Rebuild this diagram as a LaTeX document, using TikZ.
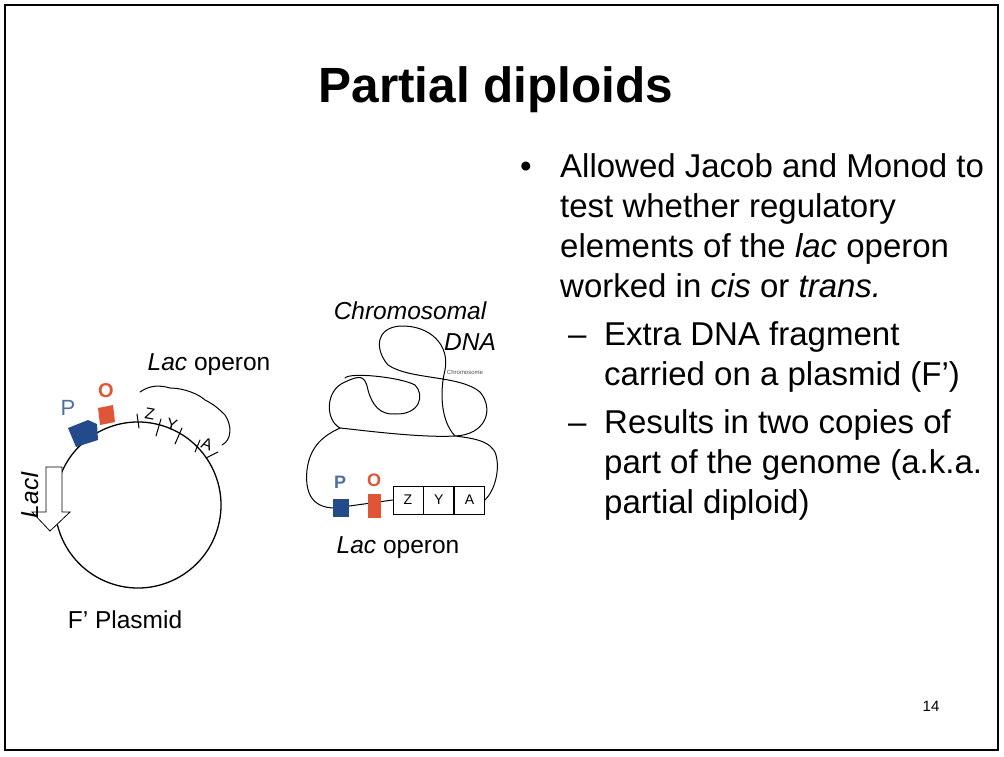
\documentclass[tikz,border=0pt]{standalone}
\usepackage{fontspec}
\setmainfont{Liberation Sans}
\usetikzlibrary{positioning}
\definecolor{pblue}{RGB}{35,75,140}
\definecolor{ored}{RGB}{225,85,55}
\begin{document}
\begin{tikzpicture}[x=1pt,y=-1pt,
  body/.style={anchor=base west,font=\fontsize{33}{36}\selectfont,inner sep=0},
  lab/.style={font=\fontsize{24.5}{26}\selectfont},
  hand/.style={line width=1.3pt,line cap=round,line join=round},
  gene/.style={draw,line width=0.8pt,minimum width=30pt,minimum height=28pt,inner sep=0,font=\fontsize{14}{14}\selectfont}]
\useasboundingbox (0,0) rectangle (1004,757);
\draw[line width=1.5pt] (5,5) rectangle (998,750);
\node[font=\bfseries\fontsize{49.5}{52}\selectfont] (title) at (496,90) {Partial diploids};
% bullets
\node[body] (b0) at (520,177) {•};
\node[body] (b1) at (560,177) {Allowed Jacob and Monod to};
\node[body] (b2) at (560,217) {test whether regulatory};
\node[body] (b3) at (560,257) {elements of the \textit{lac} operon};
\node[body] (b4) at (560,297) {worked in \textit{cis} or \textit{trans.}};
\node[body] (s0) at (568,345) {–};
\node[body] (s1) at (604,345) {Extra DNA fragment};
\node[body] (s2) at (604,385) {carried on a plasmid (F’)};
\node[body] (s3) at (568,433) {–};
\node[body] (s4) at (604,433) {Results in two copies of};
\node[body] (s5) at (604,473) {part of the genome (a.k.a.};
\node[body] (s6) at (604,513) {partial diploid)};
\node[font=\fontsize{15}{18}\selectfont] (pg) at (931,706) {14};
% plasmid
\draw[hand] (138,505) ++(110:83) arc (110:-250:83);
\fill[pblue] (68,428) -- (88,420) -- (97,424) -- (98,440) -- (76,447) -- cycle;
\node[text=pblue!80,font=\fontsize{22}{22}\selectfont] (pP) at (68,408) {P};
\fill[ored] (98,408) -- (113,405) -- (115,422) -- (100,425) -- cycle;
\node[text=ored,font=\bfseries\fontsize{20}{20}\selectfont] (pO) at (106,391) {O};
\draw[hand,line width=1pt] (137,414) -- (139,428) (161,419) -- (156,436) (182,428) -- (175,444) (200,440) -- (195,452) (206,458) -- (218,452);
\node[font=\fontsize{16}{16}\selectfont,rotate=-10] (pZ) at (150,414) {Z};
\node[font=\fontsize{16}{16}\selectfont,rotate=-15] (pY) at (172,425) {Y};
\node[font=\fontsize{16}{16}\selectfont,rotate=-20] (pA) at (207,444) {A};
\draw[hand,line width=1pt] (140,392) .. controls (150,385) and (160,385) .. (170,388)
  .. controls (185,388) and (200,395) .. (205,400)
  .. controls (215,405) and (220,410) .. (225,415)
  .. controls (232,425) and (232,440) .. (222,445);
\node[lab] (plac) at (209,365) {\textit{Lac} operon};
\draw[line width=0.8pt,fill=white] (46,467) -- (62,467) -- (62,512) -- (70,512) -- (50,531) -- (32,512) -- (46,512) -- cycle;
\node[lab,font=\itshape\fontsize{24.5}{26}\selectfont,rotate=90] (laci) at (30,495) {LacI};
\node[lab] (fp) at (125,620) {F’ Plasmid};
% chromosome
\node[lab,font=\itshape\fontsize{24.5}{26}\selectfont] (cd1) at (410,311) {Chromosomal};
\node[lab,font=\itshape\fontsize{24.5}{26}\selectfont] (cd2) at (470,342) {DNA};
\node[font=\fontsize{6}{7}\selectfont,text=black!70] (chr) at (465,372) {Chromosome};
\node[gene] (Z) at (408,500) {Z};
\node[gene,right=0pt of Z] (Y) {Y};
\node[gene,right=0pt of Y] (A) {A};
\draw[hand,line width=1pt] (Z.west) -- (335,508);
\draw[hand,line width=1pt] (A.east) .. controls (495,490) and (500,470) .. (496,455)
 .. controls (492,440) and (470,438) .. (455,436)
 .. controls (440,420) and (440,390) .. (445,370)
 .. controls (450,345) and (430,325) .. (400,326)
 .. controls (375,328) and (375,350) .. (388,365)
 .. controls (410,380) and (460,375) .. (480,392)
 .. controls (495,410) and (485,435) .. (455,436)
 .. controls (420,438) and (360,430) .. (340,428)
 .. controls (325,420) and (325,390) .. (345,382)
 .. controls (360,375) and (365,375) .. (368,390)
 .. controls (372,405) and (380,415) .. (395,414)
 .. controls (420,415) and (425,395) .. (415,385)
 .. controls (400,377) and (350,372) .. (345,378);
\draw[hand,line width=1pt] (335,508) .. controls (310,508) and (305,490) .. (307,470)
 .. controls (310,445) and (325,435) .. (340,428);
\fill[pblue] (333,499) rectangle (349,517);
\node[text=pblue!80,font=\bfseries\fontsize{18}{18}\selectfont] (cP) at (340,482) {P};
\fill[ored] (368,494) rectangle (381,518);
\node[text=ored,font=\bfseries\fontsize{18}{18}\selectfont] (cO) at (374,480) {O};
\node[lab] (clac) at (398,548) {\textit{Lac} operon};
\end{tikzpicture}
\end{document}
